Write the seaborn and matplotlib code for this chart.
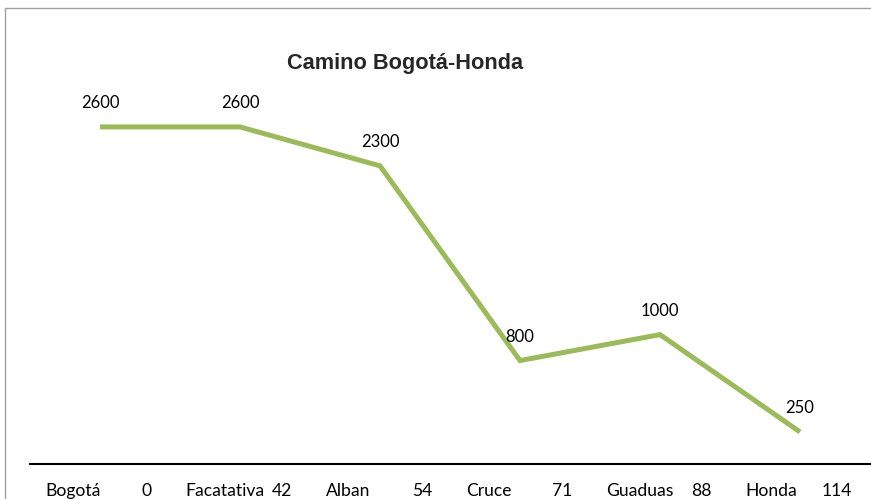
import matplotlib
matplotlib.use("Agg")
import matplotlib.pyplot as plt
import seaborn as sns
import pandas as pd
from matplotlib.lines import Line2D

places = ["Bogotá", "Facatativa", "Alban", "Cruce", "Guaduas", "Honda"]
km = ["0", "42", "54", "71", "88", "114"]
altitude = [2600, 2600, 2300, 800, 1000, 250]

df = pd.DataFrame({"pos": range(len(places)), "alt": altitude})

sns.set_theme(style="white")
plt.rcParams["font.family"] = ["Lato", "DejaVu Sans"]

W, H = 871, 499
fig = plt.figure(figsize=(W / 100, H / 100), dpi=100)
ax = fig.add_axes([30 / W, 34.6 / H, 840 / W, (464.4 - 75) / H])

sns.lineplot(data=df, x="pos", y="alt", ax=ax, color="#9BBB59", linewidth=3.6,
             solid_joinstyle="miter", solid_capstyle="butt")

ax.set_xlim(-0.5, len(places) - 0.5)
ax.set_ylim(0, 3000)
ax.set_xlabel("")
ax.set_ylabel("")
ax.set_yticks([])
ax.set_xticks([])
for s in ["top", "right", "left"]:
    ax.spines[s].set_visible(False)
ax.spines["bottom"].set_color("black")
ax.spines["bottom"].set_linewidth(1.5)

for i, (p, k, a) in enumerate(zip(places, km, altitude)):
    ax.annotate(str(a), (i, a), xytext=(0, 17.3), textcoords="offset points",
                ha="center", va="center", fontsize=12, color="black")
    ax.annotate(p, (i, 0), xycoords=("data", "axes fraction"), xytext=(-39, -19.5),
                textcoords="offset points", ha="left", va="center",
                fontsize=12.6, color="black")
    ax.annotate(k, (i, 0), xycoords=("data", "axes fraction"), xytext=(37.5, -19.5),
                textcoords="offset points", ha="right", va="center",
                fontsize=12.6, color="black")

fig.text(405 / W, 1 - 64 / H, "Camino Bogotá-Honda", ha="center", va="center",
         fontsize=15.7, fontweight="bold", family=["Liberation Sans", "DejaVu Sans"])

fig.add_artist(Line2D([4.5 / W, 4.5 / W], [0, 1 - 8 / H], transform=fig.transFigure,
                      color="#A0A0A0", linewidth=1))
fig.add_artist(Line2D([4.5 / W, 1], [1 - 8 / H, 1 - 8 / H], transform=fig.transFigure,
                      color="#A0A0A0", linewidth=1))

fig.savefig("out.png", dpi=100)
